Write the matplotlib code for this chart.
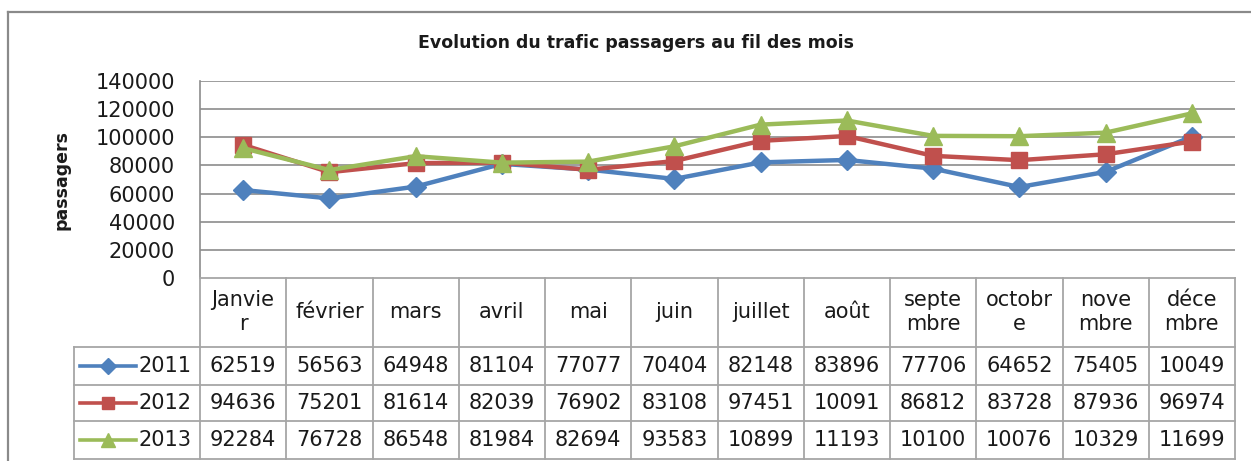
import matplotlib
matplotlib.use("Agg")
import matplotlib.pyplot as plt
from matplotlib.lines import Line2D

# ---- data ----
months = ["Janvie\nr", "février", "mars", "avril", "mai", "juin", "juillet",
          "août", "septe\nmbre", "octobr\ne", "nove\nmbre", "déce\nmbre"]
years = ["2011", "2012", "2013"]
v2011 = [62519, 56563, 64948, 81104, 77077, 70404, 82148, 83896, 77706, 64652, 75405, 100490]
v2012 = [94636, 75201, 81614, 82039, 76902, 83108, 97451, 100910, 86812, 83728, 87936, 96974]
v2013 = [92284, 76728, 86548, 81984, 82694, 93583, 108990, 111930, 101000, 100760, 103290, 116990]
series = [v2011, v2012, v2013]
yticks = [0, 20000, 40000, 60000, 80000, 100000, 120000, 140000]
title = "Evolution du trafic passagers au fil des mois"
ylabel = "passagers"

colors = ["#4F81BD", "#C0504D", "#9BBB59"]
markers = ["D", "s", "^"]
msizes = [10, 12, 13]
leg_msizes = [8, 9, 10]

W, H = 1251, 461
plt.rcParams['font.family'] = ['DejaVu Sans']
fig = plt.figure(figsize=(W / 100, H / 100), dpi=100)
fig.patch.set_facecolor("white")

def fx(x):
    return x / W

def fy(y):
    return 1 - y / H

grid_c = "#8C8C8C"
tab_c = "#A6A6A6"
txt_c = "#1A1A1A"
FS = 15

# plot area
left, right, top, bottom = 200, 1235, 81, 278
ax = fig.add_axes([fx(left), fy(bottom), fx(right - left), (bottom - top) / H])
ax.set_xlim(-0.5, len(months) - 0.5)
ax.set_ylim(0, 140000)
ax.set_yticks(yticks)
ax.set_yticklabels([str(t) for t in yticks], fontsize=FS, color=txt_c)
ax.set_xticks([])
ax.tick_params(axis="y", length=0, pad=18)
for s in ["top", "right", "bottom"]:
    ax.spines[s].set_visible(False)
ax.spines["left"].set_color(grid_c)
ax.spines["left"].set_linewidth(1.2)
for t in yticks[1:]:
    ax.axhline(t, color=grid_c, lw=1.2, zorder=0)

x = list(range(len(months)))
for vals, c, m, ms in zip(series, colors, markers, msizes):
    ax.plot(x, vals, color=c, lw=3.2, marker=m, markersize=ms,
            markerfacecolor=c, markeredgecolor=c, zorder=3, clip_on=False)

fig.text(fx(636), fy(43), title, ha="center", va="center",
         fontsize=12.5, fontweight="bold", color=txt_c)
fig.text(fx(62), fy(180), ylabel, ha="center", va="center", rotation=90,
         fontsize=12.5, fontweight="bold", color=txt_c)

# outer frame
fig.add_artist(Line2D([fx(8), fx(1251)], [fy(12), fy(12)], color="#8A8A8A", lw=1.6))
fig.add_artist(Line2D([fx(8), fx(8)], [fy(12), fy(461)], color="#8A8A8A", lw=1.6))

# ---- data table ----
fig.canvas.draw()
def col_px(i):
    return ax.transData.transform((i, 0))[0]

rows_y = [278, 347, 385, 421, 459]
leg_left = 74
tb_right = col_px(len(months) - 0.5)

def hline(y, x0, x1):
    fig.add_artist(Line2D([fx(x0), fx(x1)], [fy(y), fy(y)], color=tab_c, lw=1.3))

def vline(xp, y0, y1):
    fig.add_artist(Line2D([fx(xp), fx(xp)], [fy(y0), fy(y1)], color=tab_c, lw=1.3))

hline(rows_y[0], col_px(-0.5), tb_right)
for y in rows_y[1:]:
    hline(y, leg_left, tb_right)
for i in range(len(months) + 1):
    vline(col_px(i - 0.5), rows_y[0], rows_y[-1])
vline(leg_left, rows_y[1], rows_y[-1])

hc = (rows_y[0] + rows_y[1]) / 2
for i, mth in enumerate(months):
    fig.text(fx(col_px(i)), fy(hc), mth, ha="center", va="center",
             fontsize=FS, color=txt_c, linespacing=1.25)

for r, (yr, vals, c, m, ms) in enumerate(zip(years, series, colors, markers, leg_msizes)):
    yc = (rows_y[r + 1] + rows_y[r + 2]) / 2
    fig.add_artist(Line2D([fx(80), fx(136)], [fy(yc), fy(yc)], color=c, lw=2.6))
    fig.add_artist(Line2D([fx(108)], [fy(yc)], color=c, marker=m,
                          markersize=ms, markerfacecolor=c, markeredgecolor=c))
    fig.text(fx(165), fy(yc), yr, ha="center", va="center", fontsize=FS, color=txt_c)
    for i, v in enumerate(vals):
        fig.text(fx(col_px(i)), fy(yc), str(v)[:5], ha="center", va="center",
                 fontsize=FS, color=txt_c)

fig.savefig("out.png", dpi=100, facecolor="white")
